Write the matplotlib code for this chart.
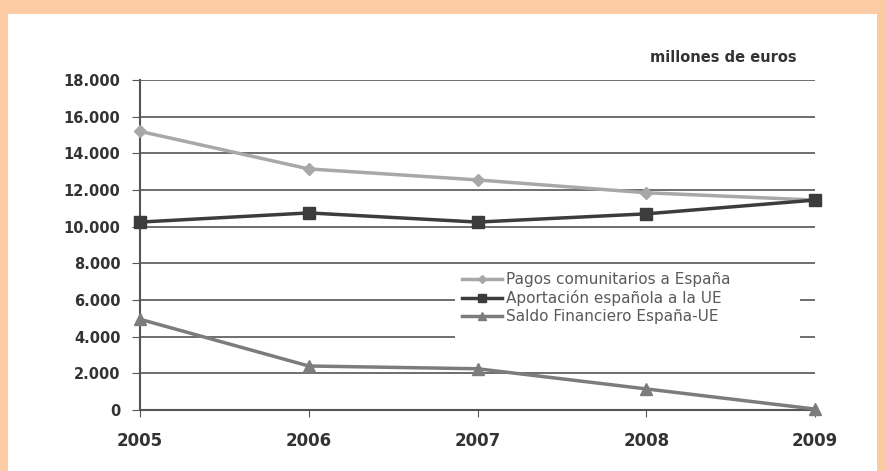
import matplotlib.pyplot as plt
from matplotlib.patches import Rectangle
from matplotlib.ticker import FuncFormatter

years = [2005, 2006, 2007, 2008, 2009]
pagos = [15200, 13150, 12550, 11850, 11450]
aportacion = [10250, 10750, 10250, 10700, 11450]
saldo = [4950, 2400, 2250, 1150, 50]

labels = ['Pagos comunitarios a España',
          'Aportación española a la UE',
          'Saldo Financiero España-UE']

plt.rcParams['font.family'] = ['DejaVu Sans']

fig = plt.figure(figsize=(8.85, 4.71), dpi=100)
fig.patch.set_facecolor('#fdcba3')
# white panel inside the orange frame
fig.add_artist(Rectangle((8/885, 0), 869/885, 1 - 14/471,
                         transform=fig.transFigure, facecolor='white',
                         edgecolor='none', zorder=-5))

ax = fig.add_axes([140/885, 1 - 410/471, 675/885, 330/471])
ax.set_facecolor('none')

ax.plot(years, pagos, color='#a8a8a8', lw=2.5, marker='D', ms=6,
        label=labels[0], clip_on=False, zorder=3)
ax.plot(years, aportacion, color='#3c3c3c', lw=2.5, marker='s', ms=8.5,
        label=labels[1], clip_on=False, zorder=4)
ax.plot(years, saldo, color='#7c7c7c', lw=2.5, marker='^', ms=8.5,
        label=labels[2], clip_on=False, zorder=3)

ax.set_xlim(2005, 2009)
ax.set_ylim(0, 18000)
ax.set_xticks(years)
ax.set_yticks(range(0, 18001, 2000))
ax.yaxis.set_major_formatter(FuncFormatter(lambda v, p: f'{int(v):,}'.replace(',', '.')))
ax.grid(axis='y', color='#555555', lw=1.2)
ax.set_axisbelow(True)

for s in ['top', 'right']:
    ax.spines[s].set_visible(False)
for s in ['left', 'bottom']:
    ax.spines[s].set_color('#555555')
    ax.spines[s].set_linewidth(1.5)

ax.tick_params(axis='y', length=6, color='#555555', labelsize=10.5,
               labelcolor='#333333', pad=8)
ax.tick_params(axis='x', length=5, color='#555555', labelsize=12,
               labelcolor='#333333', pad=11)
for t in ax.get_xticklabels() + ax.get_yticklabels():
    t.set_fontweight('bold')

ax.text(1.0 - 18/675, 1.045, 'millones de euros', transform=ax.transAxes,
        ha='right', va='bottom', fontsize=10.5, fontweight='bold', color='#333333')

# white box behind the legend, hiding the grid there
ax.add_patch(Rectangle((0.467, 0.19), 0.511, 0.235, transform=ax.transAxes,
                       facecolor='white', edgecolor='none', zorder=1))

leg = ax.legend(loc='upper left', bbox_to_anchor=(0.477, 0.418), frameon=False,
                fontsize=11, handlelength=2.6, handletextpad=0.3,
                labelspacing=0.2, borderpad=0, borderaxespad=0,
                markerscale=0.65)
for t in leg.get_texts():
    t.set_color('#5a5a5a')

fig.savefig('out.png', dpi=100, facecolor=fig.get_facecolor())
